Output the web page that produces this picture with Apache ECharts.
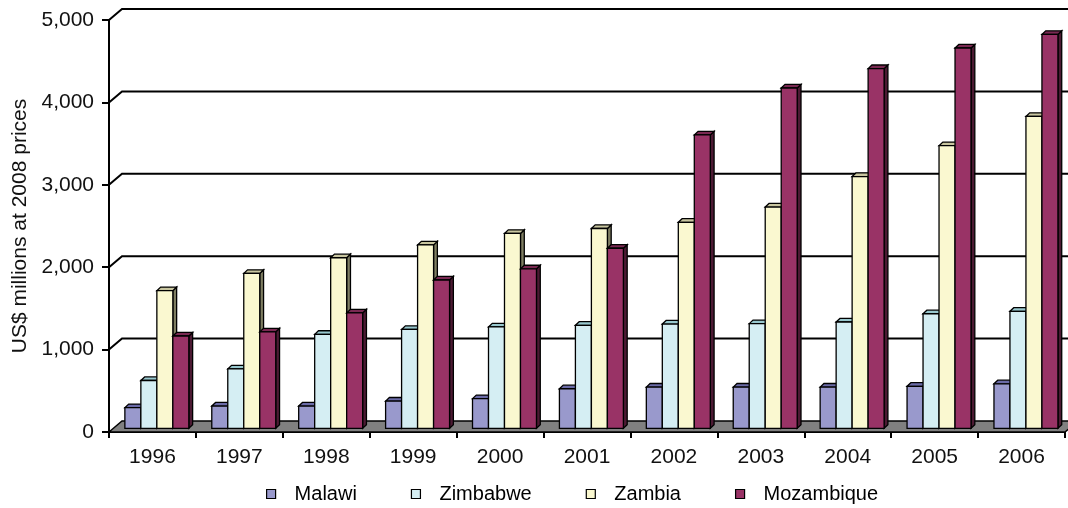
<!DOCTYPE html>
<html>
<head>
<meta charset="utf-8">
<script src="https://cdn.jsdelivr.net/npm/echarts@6/dist/echarts.min.js"></script>
<style>
  html, body { margin: 0; padding: 0; background: #fff; }
  #chart { width: 1068px; height: 508px; }
</style>
</head>
<body>
<div id="chart"></div>
<script>
// Aid-style flows by country, US$ millions at 2008 prices
const years = ['1996', '1997', '1998', '1999', '2000', '2001', '2002', '2003', '2004', '2005', '2006'];
const countries = ['Malawi', 'Zimbabwe', 'Zambia', 'Mozambique'];
const malawi     = [250, 270, 270, 330, 360, 480, 500, 500, 500, 510, 540];
const zimbabwe   = [580, 720, 1140, 1200, 1230, 1250, 1265, 1270, 1290, 1390, 1420];
const zambia     = [1670, 1880, 2070, 2225, 2365, 2425, 2500, 2685, 3055, 3430, 3785];
const mozambique = [1120, 1170, 1400, 1800, 1935, 2185, 3560, 4130, 4365, 4615, 4780];
const yTicks = [0, 1000, 2000, 3000, 4000, 5000];

const seriesValues = [malawi, zimbabwe, zambia, mozambique];
// front / top / side face colours for each country
const faceColors = [
  { front: '#9999CC', top: '#6B6BA8', side: '#4C4C80' },
  { front: '#D5EEF3', top: '#98C8CE', side: '#6A9296' },
  { front: '#FAF8D0', top: '#C9C6A0', side: '#7F7E62' },
  { front: '#993366', top: '#7A2952', side: '#4C1A33' }
];

// oblique projection of the chart's depth
const WALL_DX = 13, WALL_DY = -11;      // back wall offset of the floor / gridlines
const FRONT_DX = 4.4, FRONT_DY = -3.7;  // where the bar fronts sit on the floor
const BAR_DX = 3.8, BAR_DY = -3.6;      // bar depth
const BAR_FRAC = 0.184;                 // bar width as a share of the category band

const FONT = "'Liberation Sans', Arial, sans-serif";

function wallRender(params, api) {
  const cs = params.coordSys;
  const v = api.value(1);
  const p = api.coord([0, v]);
  const xl = cs.x, xr = cs.x + cs.width, y = p[1];
  if (v === 0) {
    return {
      type: 'polygon',
      shape: { points: [[xl, y], [xl + WALL_DX, y + WALL_DY], [xr + WALL_DX, y + WALL_DY], [xr, y]] },
      style: { fill: '#808080', stroke: '#000', lineWidth: 1.4 }
    };
  }
  return {
    type: 'polyline',
    shape: { points: [[xl, y], [xl + WALL_DX, y + WALL_DY], [xr + WALL_DX + 20, y + WALL_DY]] },
    style: { fill: null, stroke: '#000', lineWidth: 2 }
  };
}

function barSeries(idx) {
  const c = faceColors[idx];
  return {
    type: 'custom',
    name: countries[idx],
    coordinateSystem: 'cartesian2d',
    itemStyle: { color: c.front },
    data: seriesValues[idx].map((v, i) => [i, v]),
    silent: true,
    renderItem: function (params, api) {
      const cat = api.value(0), v = api.value(1);
      const base = api.coord([cat, 0]);
      const topPt = api.coord([cat, v]);
      const bw = api.size([1, 0])[0];
      const w = bw * BAR_FRAC;
      const x0 = base[0] - 2 * w + idx * w + FRONT_DX;
      const x1 = x0 + w;
      const yb = base[1] + FRONT_DY;
      const yt = topPt[1] + FRONT_DY;
      const stroke = { stroke: '#000', lineWidth: 1.3, lineJoin: 'miter' };
      return {
        type: 'group',
        children: [
          { type: 'polygon', shape: { points: [[x1, yt], [x1 + BAR_DX, yt + BAR_DY], [x1 + BAR_DX, yb + BAR_DY], [x1, yb]] },
            style: Object.assign({ fill: c.side }, stroke) },
          { type: 'polygon', shape: { points: [[x0, yt], [x0 + BAR_DX, yt + BAR_DY], [x1 + BAR_DX, yt + BAR_DY], [x1, yt]] },
            style: Object.assign({ fill: c.top }, stroke) },
          { type: 'polygon', shape: { points: [[x0, yt], [x1, yt], [x1, yb], [x0, yb]] },
            style: Object.assign({ fill: c.front }, stroke) }
        ]
      };
    }
  };
}

const chart = echarts.init(document.getElementById('chart'), null, { renderer: 'canvas' });
chart.setOption({
  animation: false,
  backgroundColor: '#fff',
  grid: { left: 109, right: 3, top: 20, bottom: 76 },
  legend: {
    data: countries,
    left: 266,
    top: 484,
    padding: 0,
    icon: 'rect',
    itemWidth: 9,
    itemHeight: 9,
    itemGap: 54,
    itemStyle: { borderColor: '#000', borderWidth: 1.2 },
    textStyle: { fontFamily: FONT, fontSize: 20, color: '#000', padding: [0, 0, 0, 14] },
    selectedMode: false
  },
  xAxis: {
    type: 'category',
    data: years,
    boundaryGap: true,
    axisLine: { lineStyle: { color: '#000', width: 2 } },
    axisTick: { show: true, length: 6, lineStyle: { color: '#000', width: 2 } },
    axisLabel: { interval: 0, margin: 15, fontFamily: FONT, fontSize: 21, color: '#111' },
    splitLine: { show: false }
  },
  yAxis: {
    type: 'value',
    min: 0,
    max: 5000,
    interval: 1000,
    name: 'US$ millions at 2008 prices',
    nameLocation: 'middle',
    nameRotate: 90,
    nameGap: 76,
    nameTextStyle: { fontFamily: FONT, fontSize: 21, color: '#111' },
    axisLine: { show: true, lineStyle: { color: '#000', width: 2 } },
    axisTick: { show: true, length: 7, lineStyle: { color: '#000', width: 2 } },
    axisLabel: {
      margin: 15, fontFamily: FONT, fontSize: 21, color: '#111',
      formatter: v => v.toLocaleString('en-US')
    },
    splitLine: { show: false }
  },
  series: [
    {
      type: 'custom',
      name: 'walls',
      coordinateSystem: 'cartesian2d',
      silent: true,
      data: yTicks.map(v => [0, v]),
      renderItem: wallRender,
      clip: false
    }
  ].concat(countries.map((_, i) => barSeries(i)))
});
</script>
</body>
</html>
